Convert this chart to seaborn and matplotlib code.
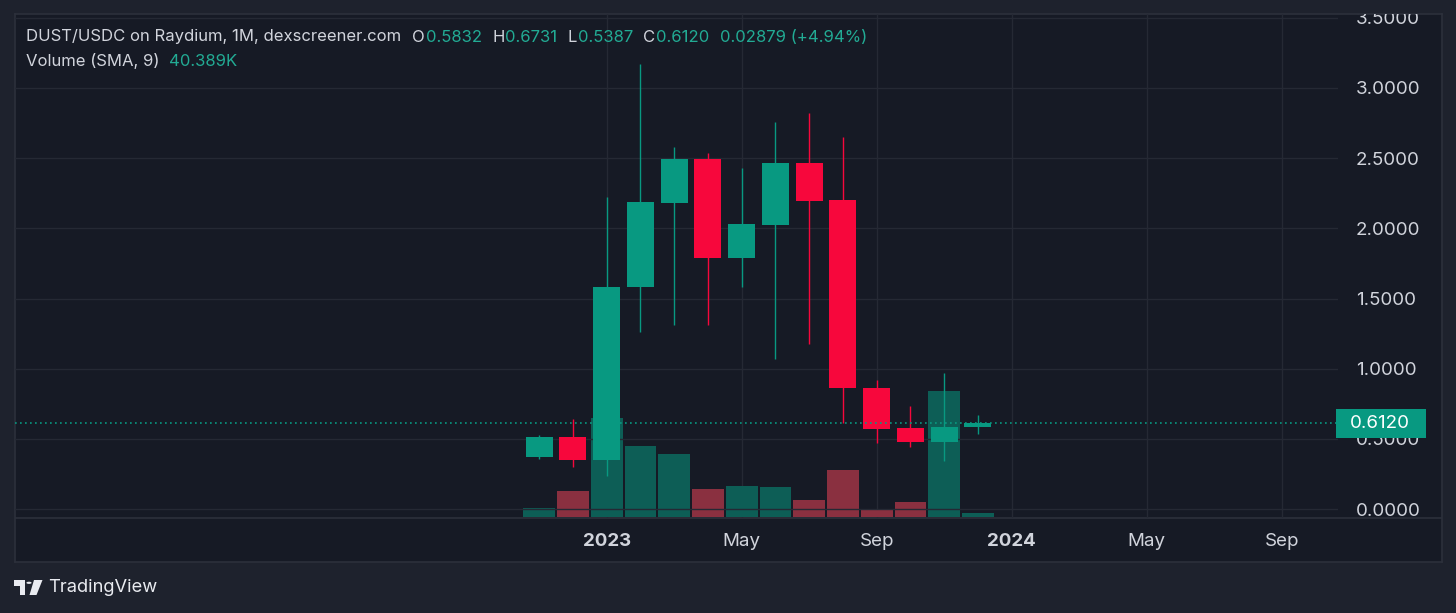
import numpy as np
import pandas as pd
import matplotlib
matplotlib.use("Agg")
import matplotlib.pyplot as plt
import matplotlib.transforms as mtransforms
from matplotlib.patches import Rectangle, Polygon, Circle
from matplotlib.ticker import FormatStrFormatter
import seaborn as sns

# monthly candles (DUST/USDC, Raydium)
months = ["2022-11", "2022-12", "2023-01", "2023-02", "2023-03", "2023-04", "2023-05",
          "2023-06", "2023-07", "2023-08", "2023-09", "2023-10", "2023-11", "2023-12"]
opens = [0.371, 0.511, 0.349, 1.584, 2.181, 2.497, 1.791, 2.027, 2.464, 2.200, 0.862, 0.575, 0.482, 0.5832]
highs = [0.527, 0.639, 2.226, 3.172, 2.578, 2.535, 2.428, 2.758, 2.820, 2.649, 0.919, 0.734, 0.969, 0.6731]
lows = [0.354, 0.297, 0.235, 1.264, 1.311, 1.309, 1.584, 1.067, 1.176, 0.611, 0.468, 0.444, 0.344, 0.5387]
closes = [0.511, 0.351, 1.584, 2.186, 2.497, 1.791, 2.029, 2.464, 2.198, 0.860, 0.568, 0.480, 0.5832, 0.6120]
volumes = [10.7, 30.6, 117.9, 84.9, 75.4, 33.3, 36.9, 36.1, 20.6, 55.6, 8.7, 17.9, 149.2, 4.8]  # thousands

tick_months = ["2023-01", "2023-05", "2023-09", "2024-01", "2024-05", "2024-09"]
tick_labels = ["2023", "May", "Sep", "2024", "May", "Sep"]
price_ticks = [0.0, 0.5, 1.0, 1.5, 2.0, 2.5, 3.0, 3.5]

header_main = "DUST/USDC on Raydium, 1M, dexscreener.com"
header_vals = [("O", "0.5832"), ("H", "0.6731"), ("L", "0.5387"), ("C", "0.6120")]
header_change = "0.02879 (+4.94%)"
vol_label = "Volume (SMA, 9)"
vol_value = "40.389K"
last_price = "0.6120"

W, H = 1456, 613
BG_OUT = "#1e222d"
BG_IN = "#161a25"
GRID = "#252934"
FRAME = "#2c303b"
TXT = "#d1d4dc"
UP = "#089981"
DOWN = "#f7073c"
VOL_UP = "#0d5e56"
VOL_DOWN = "#8a3040"
VAL = "#22ab94"

sns.set_style("dark")
plt.rcParams["font.family"] = ["Inter", "DejaVu Sans"]


def month_num(s):
    p = pd.Period(s, freq="M")
    return (p.year - 2023) * 12 + p.month - 1


xpos = np.array([month_num(m) for m in months])
tpos = [month_num(m) for m in tick_months]
o, h, l, c = map(np.array, (opens, highs, lows, closes))
up = c >= o


def rect(x0, y0, x1, y1):
    return [x0 / W, 1 - y1 / H, (x1 - x0) / W, (y1 - y0) / H]


fig = plt.figure(figsize=(W / 100, H / 100), dpi=100, facecolor=BG_OUT)

# outer panel (chart + axes area)
frame = fig.add_axes(rect(15, 14, 1442, 562))
frame.set_facecolor(BG_IN)
frame.set_xticks([])
frame.set_yticks([])
for sp in frame.spines.values():
    sp.set_color(FRAME)
    sp.set_linewidth(1.2)
frame.axhline((562 - 518) / (562 - 14), color=FRAME, lw=1.2)
frame.set_xlim(0, 1)
frame.set_ylim(0, 1)

# volume pane (underneath)
axv = fig.add_axes(rect(15, 14, 1338, 518))
axv.patch.set_visible(False)
vdf = pd.DataFrame({"pos": xpos, "volume": volumes, "dir": np.where(up, "up", "down")})
sns.barplot(data=vdf, x="pos", y="volume", hue="dir", palette={"up": VOL_UP, "down": VOL_DOWN},
            native_scale=True, dodge=False, width=0.94, errorbar=None, legend=False,
            saturation=1, linewidth=0, ax=axv)
axv.set_ylim(-1.2, 598)
axv.set_yticks([])
axv.set_xlabel("")
axv.set_ylabel("")

# price pane
ax = axv.twinx()
ax.patch.set_visible(False)
ax.vlines(xpos[up], l[up], h[up], color=UP, lw=1.0)
ax.vlines(xpos[~up], l[~up], h[~up], color=DOWN, lw=1.0)
bottoms = np.minimum(o, c)
heights = np.abs(c - o)
ax.bar(xpos[up], heights[up], bottom=bottoms[up], width=0.8, color=UP, linewidth=0)
ax.bar(xpos[~up], heights[~up], bottom=bottoms[~up], width=0.8, color=DOWN, linewidth=0)

ax.set_ylim(-0.0627, 3.527)
ax.set_yticks(price_ticks)
ax.yaxis.set_major_formatter(FormatStrFormatter("%.4f"))
ax.tick_params(axis="y", length=0, pad=13, labelsize=13.5, labelcolor=TXT)
ax.grid(axis="y", color=GRID, lw=1)
ax.set_ylabel("")

axv.set_xlim(-17.53, 21.67)
axv.set_xticks(tpos)
axv.set_xticklabels(tick_labels)
axv.tick_params(axis="x", length=0, pad=11, labelsize=13.5, labelcolor=TXT)
for lab in axv.get_xticklabels():
    if lab.get_text().isdigit():
        lab.set_fontweight("bold")
axv.grid(axis="x", color=GRID, lw=1)
axv.grid(axis="y", visible=False)
axv.set_axisbelow(True)
for a in (ax, axv):
    for sp in a.spines.values():
        sp.set_visible(False)

# clip the top price label like the reference
top_tick = ax.yaxis.get_major_ticks()[-1]
top_tick.label2.set_clip_box(frame.bbox)
top_tick.label2.set_clip_on(True)

# last price line + tag
lp = float(last_price)
ax.axhline(lp, color=UP, lw=1.2, ls=(0, (1, 2)))
tr = mtransforms.blended_transform_factory(fig.transFigure, ax.transData)
ax.add_patch(Rectangle((1336 / W, lp - 14.5 / 140.4), 90 / W, 29 / 140.4, transform=tr,
                       facecolor=UP, edgecolor="none", clip_on=False, zorder=6))
ax.text(1350 / W, lp, last_price, transform=tr, color="white", fontsize=13.5,
        va="center", ha="left", zorder=7, clip_on=False)

# header legend
renderer = fig.canvas.get_renderer()


def draw_segments(x, y, segments, size):
    for txt, col, gap in segments:
        t = fig.text(x / W, 1 - y / H, txt, color=col, fontsize=size, va="center", ha="left")
        x += t.get_window_extent(renderer).width + gap


segs = [(header_main, TXT, 11)]
for k, v in header_vals:
    segs.append((k, TXT, 1))
    segs.append((v, VAL, 10))
segs.append((header_change, VAL, 0))
draw_segments(26, 37, segs, 12.0)
draw_segments(26, 61, [(vol_label, TXT, 9), (vol_value, VAL, 0)], 12.0)

# TradingView mark
def P(x, y):
    return (x / W, 1 - y / H)


fig.patches.append(Polygon([P(14, 580), P(25, 580), P(25, 595), P(19.5, 595), P(19.5, 585.5), P(14, 585.5)],
                           closed=True, transform=fig.transFigure, facecolor="#e9ebf0", edgecolor="none"))
fig.patches.append(Circle(P(29, 582.8), 2.6 / W, transform=fig.transFigure, facecolor="#e9ebf0", edgecolor="none"))
fig.patches.append(Polygon([P(34, 580), P(42.5, 580), P(36.5, 595), P(29.5, 595)],
                           closed=True, transform=fig.transFigure, facecolor="#e9ebf0", edgecolor="none"))
fig.text(48 / W, 1 - 588 / H, "TradingView", color="#e9ebf0", fontsize=13.2, va="center", ha="left")

fig.savefig("out.png", dpi=100, facecolor=BG_OUT)
